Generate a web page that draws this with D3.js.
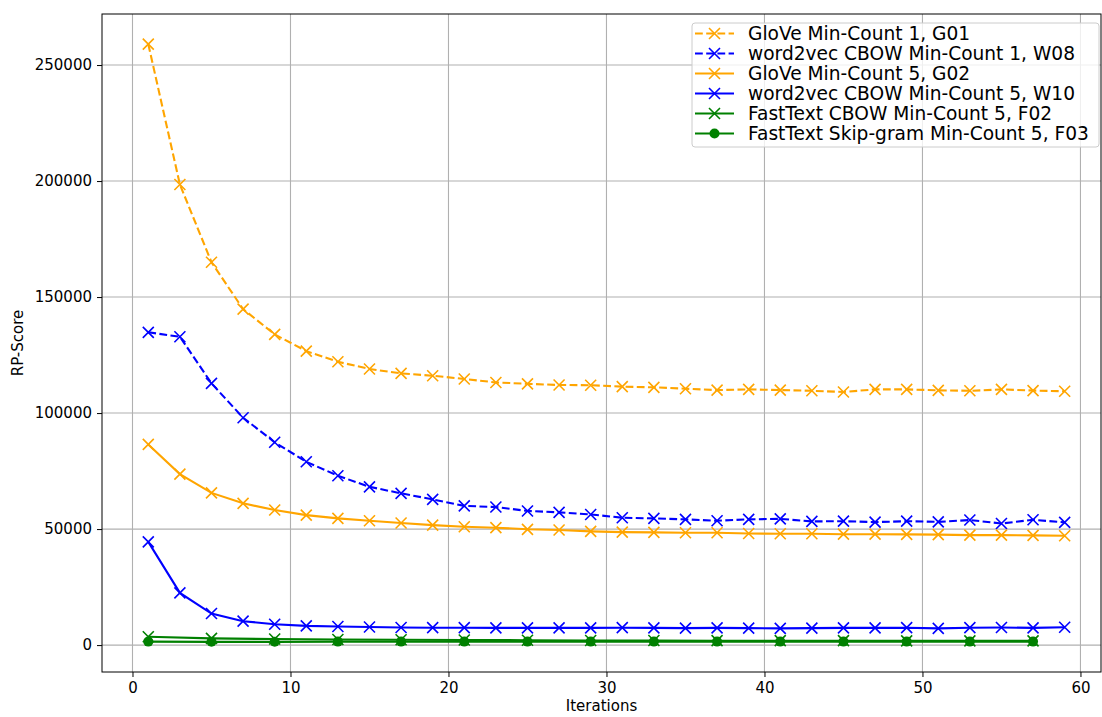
<!DOCTYPE html>
<html>
<head>
<meta charset="utf-8">
<script src="https://cdn.jsdelivr.net/npm/d3@7"></script>
<style>
  html, body { margin: 0; padding: 0; background: #fff; }
  text { font-family: "DejaVu Sans", sans-serif; }
</style>
</head>
<body>
<svg id="chart" width="1102" height="717"></svg>
<script>
// Iteration grids
const itersOdd = [1,3,5,7,9,11,13,15,17,19,21,23,25,27,29,31,33,35,37,39,41,43,45,47,49,51,53,55,57,59];
const itersFour = [1,5,9,13,17,21,25,29,33,37,41,45,49,53,57];

// RP-Score per model
const g01 = [259000,198500,165000,144800,133900,126700,122100,119000,117100,116100,114700,113200,112600,112100,112000,111400,111100,110500,109900,110200,109900,109600,109100,110200,110200,109800,109600,110200,109700,109400];
const w08 = [134800,132900,112800,98000,87400,79000,73000,68200,65400,62800,60000,59500,57800,57200,56300,54900,54600,54200,53600,54200,54400,53300,53400,53000,53400,53100,53900,52400,54000,52900];
const g02 = [86500,73700,65600,61100,58200,56000,54600,53600,52600,51700,51000,50600,49900,49600,49000,48700,48600,48400,48400,48100,48000,48000,47800,47800,47700,47600,47400,47400,47300,47100];
const w10 = [44500,22500,13600,10300,9000,8300,8000,7800,7600,7500,7500,7400,7400,7400,7400,7500,7400,7300,7400,7300,7200,7300,7400,7400,7500,7200,7500,7600,7400,7700];
const f02 = [3600,2900,2600,2400,2300,2200,2100,2000,2000,1900,1900,1900,1800,1800,1800];
const f03 = [1500,1400,1400,1500,1500,1500,1500,1500,1500,1500,1500,1500,1500,1500,1500];

const xTicks = [0,10,20,30,40,50,60];
const yTicks = [0,50000,100000,150000,200000,250000];

const series = [
  { name: "GloVe Min-Count 1, G01", x: itersOdd, y: g01, color: "#FFA500", dashed: true, marker: "x" },
  { name: "word2vec CBOW Min-Count 1, W08", x: itersOdd, y: w08, color: "#0000FF", dashed: true, marker: "x" },
  { name: "GloVe Min-Count 5, G02", x: itersOdd, y: g02, color: "#FFA500", dashed: false, marker: "x" },
  { name: "word2vec CBOW Min-Count 5, W10", x: itersOdd, y: w10, color: "#0000FF", dashed: false, marker: "x" },
  { name: "FastText CBOW Min-Count 5, F02", x: itersFour, y: f02, color: "#008000", dashed: false, marker: "x" },
  { name: "FastText Skip-gram Min-Count 5, F03", x: itersFour, y: f03, color: "#008000", dashed: false, marker: "o" }
];

const svg = d3.select("#chart");
const pLeft = 102, pRight = 1101, pTop = 14, pBottom = 672;

const x = d3.scaleLinear().domain([-1.93, 61.3]).range([pLeft, pRight]);
const y = d3.scaleLinear().domain([-11600, 272000]).range([pBottom, pTop]);

// grid
const grid = svg.append("g");
grid.selectAll("line.gx").data(xTicks).join("line")
  .attr("x1", d => x(d)).attr("x2", d => x(d))
  .attr("y1", pTop).attr("y2", pBottom)
  .attr("stroke", "#b0b0b0").attr("stroke-width", 1.1);
grid.selectAll("line.gy").data(yTicks).join("line")
  .attr("x1", pLeft).attr("x2", pRight)
  .attr("y1", d => y(d)).attr("y2", d => y(d))
  .attr("stroke", "#b0b0b0").attr("stroke-width", 1.1);

// axes
const xAxis = svg.append("g").attr("transform", `translate(0,${pBottom})`)
  .call(d3.axisBottom(x).tickValues(xTicks).tickFormat(d3.format("d")).tickSize(5).tickPadding(5));
const yAxis = svg.append("g").attr("transform", `translate(${pLeft},0)`)
  .call(d3.axisLeft(y).tickValues(yTicks).tickFormat(d3.format("d")).tickSize(5).tickPadding(5));
[xAxis, yAxis].forEach(a => {
  a.select(".domain").remove();
  a.selectAll("text").attr("font-size", 15).attr("fill", "#000").attr("font-family", "DejaVu Sans");
  a.selectAll("line").attr("stroke", "#000").attr("stroke-width", 1);
});

// lines and markers
svg.append("clipPath").attr("id", "plotclip")
  .append("rect").attr("x", pLeft).attr("y", pTop).attr("width", pRight - pLeft).attr("height", pBottom - pTop);
const plot = svg.append("g").attr("clip-path", "url(#plotclip)");

const line = d3.line().x(d => x(d[0])).y(d => y(d[1]));

function drawMarker(g, kind, color, cx, cy) {
  if (kind === "x") {
    const s = 5.5;
    g.append("path")
      .attr("d", `M${cx - s},${cy - s}L${cx + s},${cy + s}M${cx - s},${cy + s}L${cx + s},${cy - s}`)
      .attr("stroke", color).attr("stroke-width", 1.6).attr("fill", "none");
  } else {
    g.append("circle").attr("cx", cx).attr("cy", cy).attr("r", 5).attr("fill", color);
  }
}

series.forEach(s => {
  const pts = s.x.map((v, i) => [v, s.y[i]]);
  const g = plot.append("g");
  g.append("path").datum(pts)
    .attr("d", line)
    .attr("fill", "none")
    .attr("stroke", s.color)
    .attr("stroke-width", 2.1)
    .attr("stroke-dasharray", s.dashed ? "7.8,3.4" : null);
  pts.forEach(p => drawMarker(g, s.marker, s.color, x(p[0]), y(p[1])));
});

// frame
svg.append("rect").attr("x", pLeft).attr("y", pTop).attr("width", pRight - pLeft).attr("height", pBottom - pTop)
  .attr("fill", "none").attr("stroke", "#000").attr("stroke-width", 1);

// axis labels
svg.append("text").attr("x", (pLeft + pRight) / 2).attr("y", 711)
  .attr("text-anchor", "middle").attr("font-size", 15).text("Iterations");
svg.append("text").attr("transform", `translate(23,${(pTop + pBottom) / 2}) rotate(-90)`)
  .attr("text-anchor", "middle").attr("font-size", 15).text("RP-Score");

// legend
const lg = svg.append("g");
lg.append("rect").attr("x", 692).attr("y", 23).attr("width", 407).attr("height", 124)
  .attr("rx", 3).attr("fill", "#fff").attr("fill-opacity", 0.8)
  .attr("stroke", "#ccc").attr("stroke-width", 1);
series.forEach((s, i) => {
  const cy = 33.5 + i * 20;
  lg.append("line").attr("x1", 695).attr("x2", 734).attr("y1", cy).attr("y2", cy)
    .attr("stroke", s.color).attr("stroke-width", 2.1)
    .attr("stroke-dasharray", s.dashed ? "7.8,3.4" : null);
  drawMarker(lg, s.marker, s.color, 714.5, cy);
  lg.append("text").attr("x", 748).attr("y", cy).attr("dy", "0.36em")
    .attr("font-size", 18.6).text(s.name);
});
</script>
</body>
</html>
